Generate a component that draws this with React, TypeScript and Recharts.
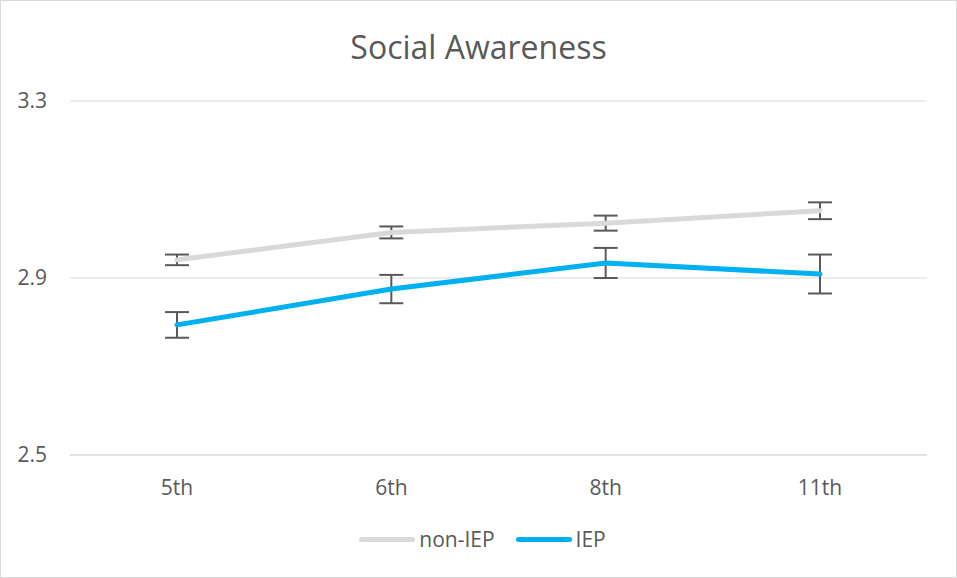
import { LineChart, Line, XAxis, YAxis, CartesianGrid, Legend, ErrorBar } from 'recharts'

const categories = ['5th', '6th', '8th', '11th']
const seriesNames = ['non-IEP', 'IEP']
const nonIepScores = [2.941, 3.003, 3.024, 3.052]
const nonIepErrors = [0.012, 0.0135, 0.017, 0.019]
const iepScores = [2.794, 2.875, 2.934, 2.909]
const iepErrors = [0.029, 0.032, 0.034, 0.044]
const yTicks = [2.5, 2.9, 3.3]

const data = categories.map((grade, i) => ({
  grade,
  nonIep: nonIepScores[i],
  nonIepErr: nonIepErrors[i],
  iep: iepScores[i],
  iepErr: iepErrors[i],
}))

const FONT = '"Open Sans", "Noto Sans", sans-serif'
const TEXT = '#595959'

interface LegendItem {
  value?: string
  color?: string
}

function ChartLegend({ payload }: { payload?: LegendItem[] }) {
  if (!payload) return null
  // keep the series order, not alphabetical
  const items = [...payload].sort(
    (a, b) => seriesNames.indexOf(a.value ?? '') - seriesNames.indexOf(b.value ?? ''),
  )
  return (
    <div
      style={{
        display: 'flex',
        justifyContent: 'center',
        gap: 21,
        fontFamily: FONT,
        fontSize: 21,
        color: TEXT,
        lineHeight: '24px',
        paddingLeft: 8,
      }}
    >
      {items.map((item) => (
        <div key={item.value} style={{ display: 'flex', alignItems: 'center' }}>
          <span
            style={{
              display: 'inline-block',
              width: 56,
              height: 5,
              borderRadius: 3,
              background: item.color,
              marginRight: 4,
            }}
          />
          <span>{item.value}</span>
        </div>
      ))}
    </div>
  )
}

export default function App() {
  return (
    <div
      style={{
        position: 'relative',
        width: 957,
        height: 578,
        border: '1px solid #D9D9D9',
        boxSizing: 'border-box',
        background: '#fff',
      }}
    >
      <style>{'body { margin: 0; }'}</style>
      <div
        style={{
          position: 'absolute',
          top: 24,
          left: 0,
          width: '100%',
          textAlign: 'center',
          fontFamily: FONT,
          fontSize: 32,
          color: TEXT,
          zIndex: 1,
        }}
      >
        Social Awareness
      </div>
      <LineChart
        width={955}
        height={576}
        data={data}
        margin={{ top: 100, right: 29, bottom: 82, left: 0 }}
      >
        <CartesianGrid vertical={false} stroke="#D9D9D9" strokeWidth={1} />
        <XAxis
          dataKey="grade"
          height={40}
          padding={{ left: 107, right: 107 }}
          axisLine={{ stroke: '#D9D9D9' }}
          tickLine={false}
          tickMargin={19}
          tick={{ fontSize: 21, fill: TEXT, fontFamily: FONT }}
        />
        <YAxis
          domain={[2.5, 3.3]}
          ticks={yTicks}
          width={69}
          axisLine={false}
          tickLine={false}
          tickMargin={17}
          tickFormatter={(v: number) => v.toFixed(1)}
          tick={{ fontSize: 21, fill: TEXT, fontFamily: FONT }}
        />
        <Legend
          verticalAlign="middle"
          align="center"
          layout="horizontal"
          content={<ChartLegend />}
          wrapperStyle={{ top: 526, left: 0, width: 955 }}
        />
        <Line
          name={seriesNames[0]}
          dataKey="nonIep"
          stroke="#D9D9D9"
          strokeWidth={5}
          strokeLinecap="round"
          dot={false}
          activeDot={false}
          isAnimationActive={false}
        >
          <ErrorBar dataKey="nonIepErr" width={12} stroke="#595959" strokeWidth={2} direction="y" />
        </Line>
        <Line
          name={seriesNames[1]}
          dataKey="iep"
          stroke="#00B0F0"
          strokeWidth={5}
          strokeLinecap="round"
          dot={false}
          activeDot={false}
          isAnimationActive={false}
        >
          <ErrorBar dataKey="iepErr" width={12} stroke="#595959" strokeWidth={2} direction="y" />
        </Line>
      </LineChart>
    </div>
  )
}
